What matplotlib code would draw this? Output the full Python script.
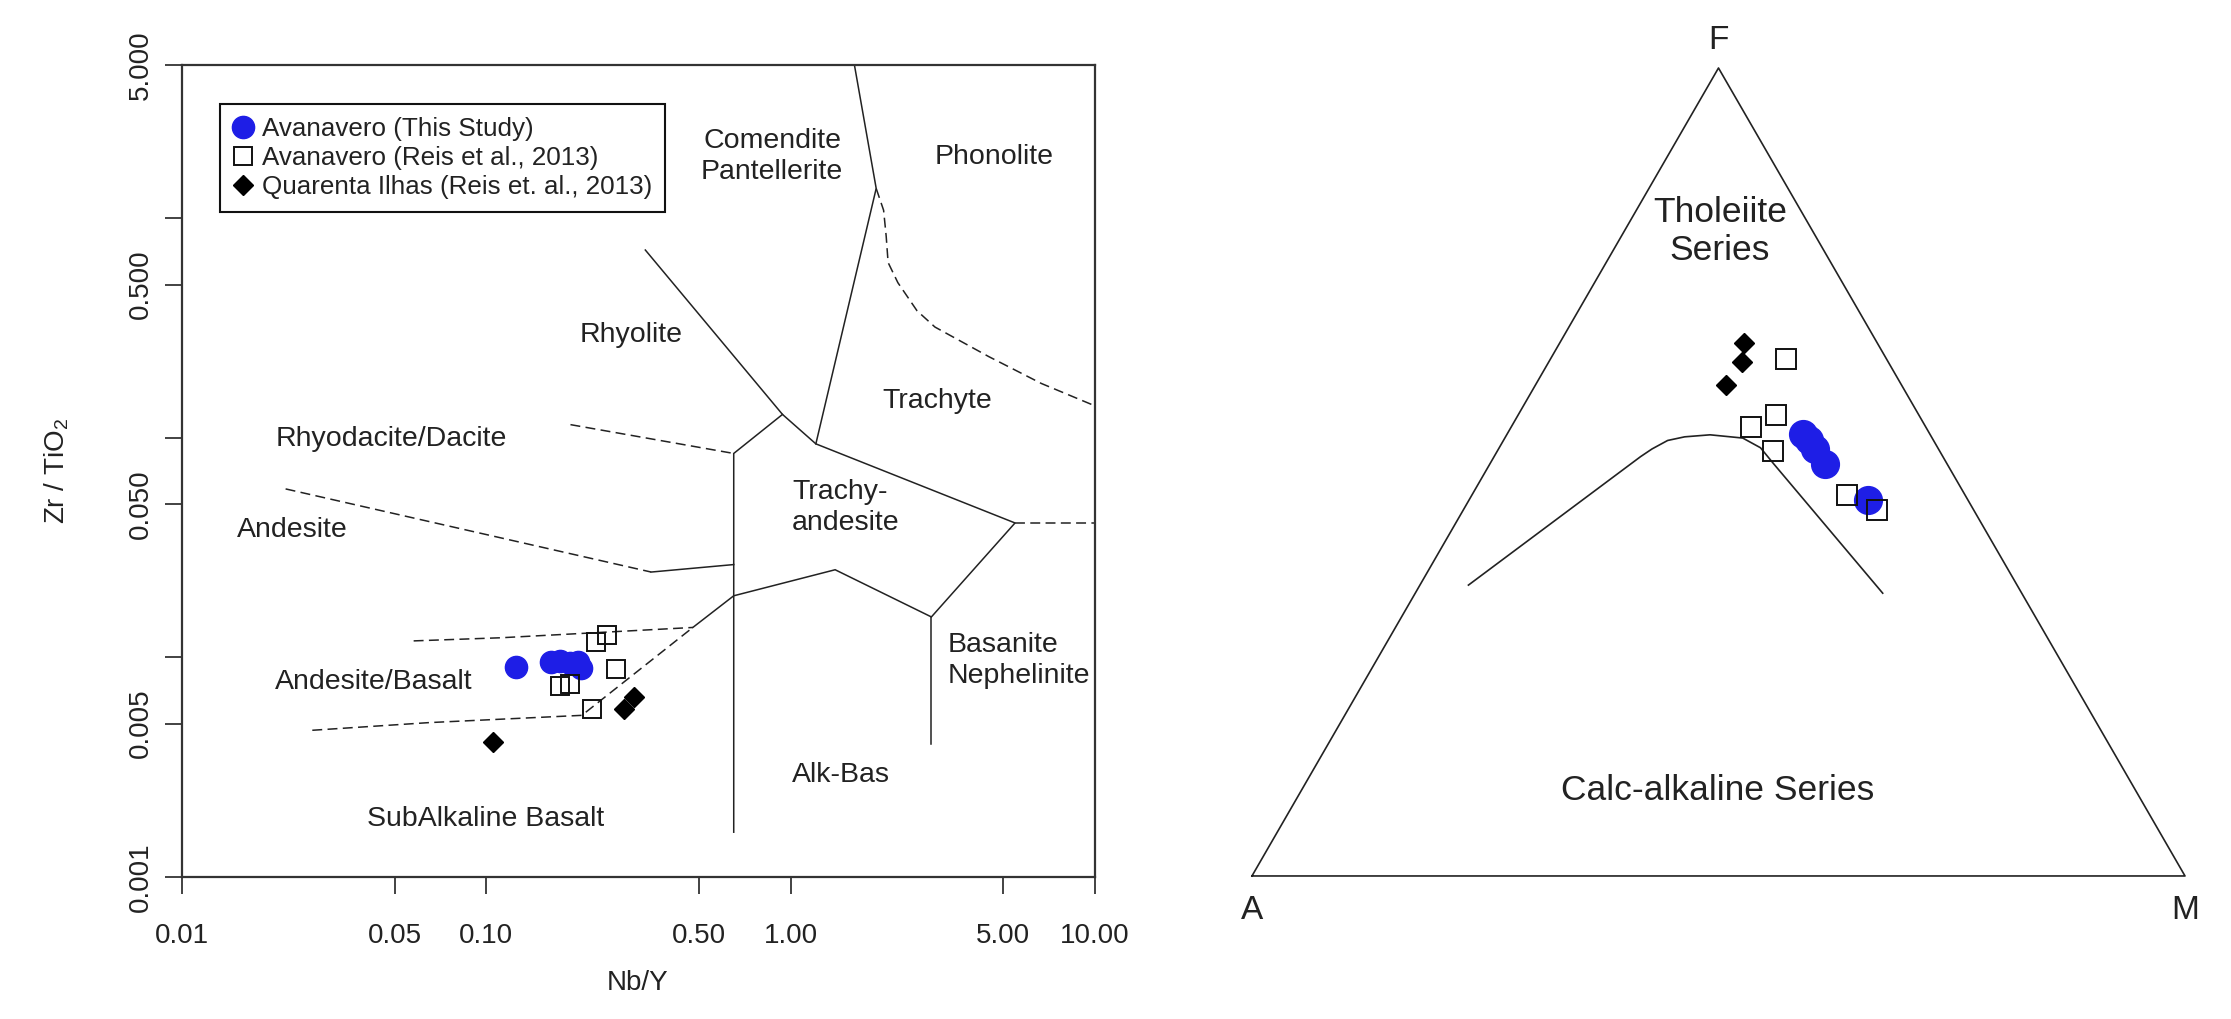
import numpy as np
import matplotlib
matplotlib.use("Agg")
import matplotlib.pyplot as plt
from matplotlib.lines import Line2D

plt.rcParams['font.family'] = ['Liberation Sans', 'DejaVu Sans']
plt.rcParams['mathtext.default'] = 'regular'

# ---- Winchester & Floyd: Nb/Y vs Zr/TiO2 ----
this_nby = [0.125, 0.163, 0.174, 0.188, 0.200, 0.205]
this_zr = [0.00903, 0.00953, 0.00966, 0.00941, 0.00951, 0.00893]
reis_nby = [0.229, 0.249, 0.267, 0.175, 0.188, 0.223]
reis_zr = [0.0118, 0.0127, 0.00887, 0.00742, 0.00757, 0.00582]
qi_nby = [0.105, 0.283, 0.306]
qi_zr = [0.00412, 0.00582, 0.00661]

x_ticks = [0.01, 0.05, 0.1, 0.5, 1, 5, 10]
x_ticklabels = ["0.01", "0.05", "0.10", "0.50", "1.00", "5.00", "10.00"]
y_ticks = [0.001, 0.005, 0.01, 0.05, 0.1, 0.5, 1, 5]
y_ticklabels = ["0.001", "0.005", "", "0.050", "", "0.500", "", "5.000"]

# field boundaries (Nb/Y, Zr/TiO2)
solid_lines = [
    [(1.62, 5.0), (1.91, 1.37), (1.21, 0.094)],
    [(0.333, 0.718), (0.94, 0.128), (1.21, 0.094), (5.46, 0.041), (2.90, 0.0153),
     (1.40, 0.0251), (0.65, 0.0191), (0.477, 0.0137)],
    [(0.94, 0.128), (0.65, 0.085), (0.65, 0.0016)],
    [(0.348, 0.0245), (0.65, 0.0265)],
    [(2.90, 0.0153), (2.90, 0.00405)],
]
dashed_lines = [
    [(1.91, 1.37), (2.02, 1.09), (2.06, 0.83), (2.09, 0.63), (2.25, 0.51), (2.60, 0.38),
     (2.98, 0.32), (4.47, 0.235), (6.67, 0.177), (10, 0.14)],
    [(5.46, 0.041), (10, 0.041)],
    [(0.189, 0.115), (0.65, 0.085)],
    [(0.0219, 0.0586), (0.348, 0.0245)],
    [(0.0577, 0.0119), (0.112, 0.0123), (0.477, 0.0137)],
    [(0.0268, 0.00466), (0.0648, 0.00505), (0.206, 0.00545), (0.477, 0.0137)],
]
# (text, Nb/Y, Zr/TiO2, ha)
field_labels = [
    ("Comendite\nPantellerite", 0.869, 1.91, "center"),
    ("Phonolite", 4.66, 1.91, "center"),
    ("Rhyolite", 0.299, 0.294, "center"),
    ("Trachyte", 3.03, 0.147, "center"),
    ("Rhyodacite/Dacite", 0.0486, 0.0989, "center"),
    ("Trachy-\nandesite", 1.01, 0.048, "left"),
    ("Andesite", 0.023, 0.0381, "center"),
    ("Basanite\nNephelinite", 3.29, 0.00964, "left"),
    ("Andesite/Basalt", 0.0428, 0.00773, "center"),
    ("Alk-Bas", 1.46, 0.00292, "center"),
    ("SubAlkaline Basalt", 0.0998, 0.00184, "center"),
]

# ---- AFM (percent) ----
this_F = [54.7, 53.9, 52.9, 51.0, 46.5]
this_M = [31.7, 32.7, 33.9, 35.9, 42.8]
reis_F = [64.0, 57.05, 55.57, 52.6, 47.15, 45.3]
reis_M = [25.2, 27.6, 25.7, 29.5, 40.2, 44.3]
qi_F = [66.0, 63.6, 60.8]
qi_M = [19.7, 20.7, 20.4]
# Irvine & Baragar boundary
ib_F = [36.0, 51.9, 52.85, 53.9, 54.35, 54.6, 54.2, 53.0, 51.1, 35.0]
ib_M = [5.2, 15.7, 16.45, 17.6, 19.2, 21.8, 25.5, 28.0, 30.3, 50.1]

BLUE = "#1e1ee6"
LINE = "#222222"


def tern_xy(F, M):
    F = np.asarray(F) / 100.0
    M = np.asarray(M) / 100.0
    return M + F / 2, F * np.sqrt(3) / 2


def main():
    fig = plt.figure(figsize=(22.31, 10.19), dpi=100)

    # left panel
    ax = fig.add_axes([182 / 2231, 1 - 877 / 1019, 913 / 2231, 812 / 1019])
    ax.set_xscale("log")
    ax.set_yscale("log")
    ax.set_xlim(0.01, 10)
    ax.set_ylim(0.001, 5)

    for seg in solid_lines:
        xs, ys = zip(*seg)
        ax.plot(xs, ys, color=LINE, lw=1.1, solid_joinstyle="miter")
    for seg in dashed_lines:
        xs, ys = zip(*seg)
        ax.plot(xs, ys, color=LINE, lw=1.1, ls=(0, (6.5, 3.5)))

    for txt, x, y, ha in field_labels:
        ax.text(x, y, txt, ha=ha, va="center", fontsize=20.5, color="#222222",
                multialignment=ha, linespacing=1.25)

    ax.plot(this_nby, this_zr, "o", ms=16, color=BLUE, mec=BLUE, ls="none")
    ax.plot(reis_nby, reis_zr, "s", ms=13, mfc="none", mec="#111111", mew=1.4, ls="none")
    ax.plot(qi_nby, qi_zr, "D", ms=10, color="black", ls="none")

    ax.xaxis.set_major_locator(plt.FixedLocator(x_ticks))
    ax.yaxis.set_major_locator(plt.FixedLocator(y_ticks))
    ax.minorticks_off()
    ax.set_xticks(x_ticks, x_ticklabels)
    ax.set_yticks(y_ticks, y_ticklabels)
    ax.tick_params(axis="both", direction="out", length=12, width=1.2, colors="#222222",
                   labelsize=20)
    ax.tick_params(axis="x", pad=21)
    ax.tick_params(axis="y", pad=8.5)
    for lab in ax.get_yticklabels():
        lab.set_rotation(90)
        lab.set_va("center")
    for sp in ax.spines.values():
        sp.set_linewidth(1.6)
        sp.set_color("#333333")

    fig.text(638 / 2231, 1 - 983 / 1019, "Nb/Y", ha="center", va="center", fontsize=20,
             color="#222222")
    fig.text(57 / 2231, 1 - 471 / 1019, "Zr / TiO$_2$", ha="center", va="center",
             rotation=90, fontsize=20, color="#222222")

    handles = [
        Line2D([], [], marker="o", ms=16, color=BLUE, ls="none", label="Avanavero (This Study)"),
        Line2D([], [], marker="s", ms=13, mfc="none", mec="#111111", mew=1.4, ls="none",
               label="Avanavero (Reis et al., 2013)"),
        Line2D([], [], marker="D", ms=10, color="black", ls="none",
               label="Quarenta Ilhas (Reis et. al., 2013)"),
    ]
    leg = ax.legend(handles=handles, loc="upper left", bbox_to_anchor=(0.0416, 0.952),
                    fontsize=18.7, frameon=True, fancybox=False, framealpha=1,
                    edgecolor="#111111", borderpad=0.5, handlelength=0.8,
                    handletextpad=0.3, labelspacing=0.2, borderaxespad=0)
    leg.get_frame().set_linewidth(1.5)
    for t in leg.get_texts():
        t.set_color("#222222")

    # right panel: AFM ternary
    ax2 = fig.add_axes([1200 / 2231, 0, 1031 / 2231, 1])
    ax2.set_xlim(-0.0557, 1.0493)
    ax2.set_ylim(-0.1533, 0.9389)
    ax2.axis("off")

    tx, ty = tern_xy([0, 0, 100, 0], [0, 100, 0, 0])
    ax2.plot(tx, ty, color=LINE, lw=1.2)
    cx, cy = tern_xy(ib_F, ib_M)
    ax2.plot(cx, cy, color=LINE, lw=1.2)

    px, py = tern_xy(this_F, this_M)
    ax2.plot(px, py, "o", ms=20, color=BLUE, ls="none")
    px, py = tern_xy(reis_F, reis_M)
    ax2.plot(px, py, "s", ms=14.5, mfc="none", mec="#111111", mew=1.4, ls="none")
    px, py = tern_xy(qi_F, qi_M)
    ax2.plot(px, py, "D", ms=10.5, color="black", ls="none")

    ax2.text(0.0, -0.037, "A", ha="center", va="center", fontsize=24, color="#222222")
    ax2.text(1.0, -0.037, "M", ha="center", va="center", fontsize=24, color="#222222")
    ax2.text(0.4995, 0.896, "F", ha="center", va="center", fontsize=24, color="#222222")
    ax2.text(0.5016, 0.691, "Tholeiite\nSeries", ha="center", va="center", fontsize=25.5,
             color="#222222", linespacing=1.2)
    ax2.text(0.4995, 0.092, "Calc-alkaline Series", ha="center", va="center",
             fontsize=25.5, color="#222222")

    fig.savefig("out.png", dpi=100)


if __name__ == "__main__":
    main()
